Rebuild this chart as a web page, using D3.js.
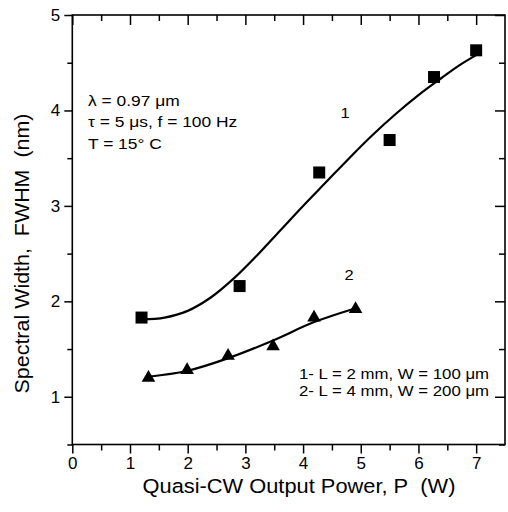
<!DOCTYPE html>
<html><head><meta charset="utf-8">
<script src="https://cdn.jsdelivr.net/npm/d3@7"></script>
<style>html,body{margin:0;padding:0;background:#fff;}svg{display:block;font-family:"Liberation Sans",Arial,Helvetica,sans-serif;}</style>
</head><body>
<script>
// Series 1 (squares): L = 2 mm, W = 100 µm
const s1X = [1.2, 2.9, 4.28, 5.5, 6.27, 7.0];
const s1Y = [1.83, 2.16, 3.35, 3.69, 4.35, 4.63];
// Series 2 (triangles): L = 4 mm, W = 200 µm
const s2X = [1.32, 1.99, 2.70, 3.48, 4.19, 4.91];
const s2Y = [1.21, 1.29, 1.44, 1.54, 1.84, 1.93];
// Fit curves
const fit1X = [1.2, 1.6, 2.0, 2.4, 2.8, 3.2, 3.6, 4.0, 4.4, 4.8, 5.2, 5.6, 6.0, 6.4, 6.7, 7.0];
const fit1Y = [1.81, 1.83, 1.90, 2.04, 2.24, 2.48, 2.74, 3.00, 3.25, 3.50, 3.74, 3.96, 4.16, 4.34, 4.47, 4.58];
const fit2X = [1.32, 1.98, 2.68, 3.48, 4.18, 4.87];
const fit2Y = [1.21, 1.27, 1.40, 1.59, 1.78, 1.92];
const xTicks = [0, 1, 2, 3, 4, 5, 6, 7];
const yTicks = [1, 2, 3, 4, 5];
const xMinor = [0.5, 1.5, 2.5, 3.5, 4.5, 5.5, 6.5];
const yMinor = [0.5, 1.5, 2.5, 3.5, 4.5];
const notes = ["λ = 0.97 μm", "τ = 5 μs, f = 100 Hz", "T = 15° C"];
const legendLines = ["1- L = 2 mm, W = 100 μm", "2- L = 4 mm, W = 200 μm"];
const xTitle = "Quasi-CW Output Power, P\u00a0\u00a0(W)";
const yTitle = "Spectral Width,\u00a0\u00a0FWHM\u00a0\u00a0(nm)";

const W = 508, H = 512;
const L = 72.3, R = 505, T = 15, B = 444.5;
const svg = d3.select("body").append("svg").attr("width", W).attr("height", H);
const x = d3.scaleLinear().domain([0, 7.5]).range([L, R]);
const y = d3.scaleLinear().domain([0.5, 5]).range([B, T]);

const font = '"Liberation Sans",Arial,Helvetica,sans-serif';

// Bottom axis (outward ticks)
svg.append("g").attr("transform", `translate(0,${B})`)
  .call(d3.axisBottom(x).tickValues(xTicks).tickSize(9).tickSizeOuter(0).tickPadding(3).tickFormat(d3.format("d")));
svg.append("g").attr("transform", `translate(0,${B})`)
  .call(d3.axisBottom(x).tickValues(xMinor).tickSize(6).tickSizeOuter(0).tickFormat(""));
// Left axis
svg.append("g").attr("transform", `translate(${L},0)`)
  .call(d3.axisLeft(y).tickValues(yTicks).tickSize(8).tickSizeOuter(0).tickPadding(4).tickFormat(d3.format("d")));
svg.append("g").attr("transform", `translate(${L},0)`)
  .call(d3.axisLeft(y).tickValues(yMinor).tickSize(5).tickSizeOuter(0).tickFormat(""));
// Top axis (inward ticks)
svg.append("g").attr("transform", `translate(0,${T})`)
  .call(d3.axisBottom(x).tickValues(xTicks).tickSize(10).tickSizeOuter(0).tickFormat(""));
svg.append("g").attr("transform", `translate(0,${T})`)
  .call(d3.axisBottom(x).tickValues(xMinor).tickSize(6).tickSizeOuter(0).tickFormat(""));
// Right axis (inward ticks)
svg.append("g").attr("transform", `translate(${R},0)`)
  .call(d3.axisLeft(y).tickValues(yTicks).tickSize(10).tickSizeOuter(0).tickFormat(""));
svg.append("g").attr("transform", `translate(${R},0)`)
  .call(d3.axisLeft(y).tickValues(yMinor).tickSize(6).tickSizeOuter(0).tickFormat(""));

svg.selectAll(".domain").remove();
svg.selectAll(".tick line").attr("stroke", "#000").attr("stroke-width", 1.5);
svg.selectAll(".tick text").attr("fill", "#000").attr("font-size", 17).attr("font-family", font);

// Frame
svg.append("rect").attr("x", L).attr("y", T).attr("width", R - L).attr("height", B - T)
  .attr("fill", "none").attr("stroke", "#000").attr("stroke-width", 1.6);

// Fit curves
const line = d3.line().x(d => x(d[0])).y(d => y(d[1])).curve(d3.curveCatmullRom.alpha(0.5));
svg.append("path").datum(fit1X.map((v, i) => [v, fit1Y[i]]))
  .attr("d", line).attr("fill", "none").attr("stroke", "#000").attr("stroke-width", 2.2);
svg.append("path").datum(fit2X.map((v, i) => [v, fit2Y[i]]))
  .attr("d", line).attr("fill", "none").attr("stroke", "#000").attr("stroke-width", 2.2);

// Markers
svg.selectAll(".sq").data(s1X.map((v, i) => [v, s1Y[i]])).enter().append("rect")
  .attr("x", d => x(d[0]) - 6).attr("y", d => y(d[1]) - 6).attr("width", 12).attr("height", 12).attr("fill", "#000");
const tri = d3.symbol().type(d3.symbolTriangle).size(80);
svg.selectAll(".tri").data(s2X.map((v, i) => [v, s2Y[i]])).enter().append("path")
  .attr("d", tri).attr("transform", d => `translate(${x(d[0])},${y(d[1]) + 1})`).attr("fill", "#000");

// Text helper with slight horizontal stretch (matches the reference's wide type)
function stext(px, py, str, size, sx, anchor) {
  svg.append("text").attr("transform", `translate(${px},${py}) scale(${sx},1)`)
    .attr("text-anchor", anchor || "start").attr("font-size", size).attr("font-family", font).text(str);
}
const noteY = [106, 127, 149];
notes.forEach((t, i) => stext(88, noteY[i], t, 14.5, 1.2));
const legY = [379, 396];
legendLines.forEach((t, i) => stext(299, legY[i], t, 14, 1.2));
stext(345, 118, "1", 15, 1.1, "middle");
stext(349, 280, "2", 15, 1.1, "middle");

// Axis titles
stext((143 + 455) / 2, 493, xTitle, 19.5, 1.12, "middle");
svg.append("text").attr("transform", `translate(29,${253.5}) rotate(-90) scale(1.1,1)`).attr("text-anchor", "middle")
  .attr("font-size", 19.5).attr("font-family", font).text(yTitle);
</script>
</body></html>
